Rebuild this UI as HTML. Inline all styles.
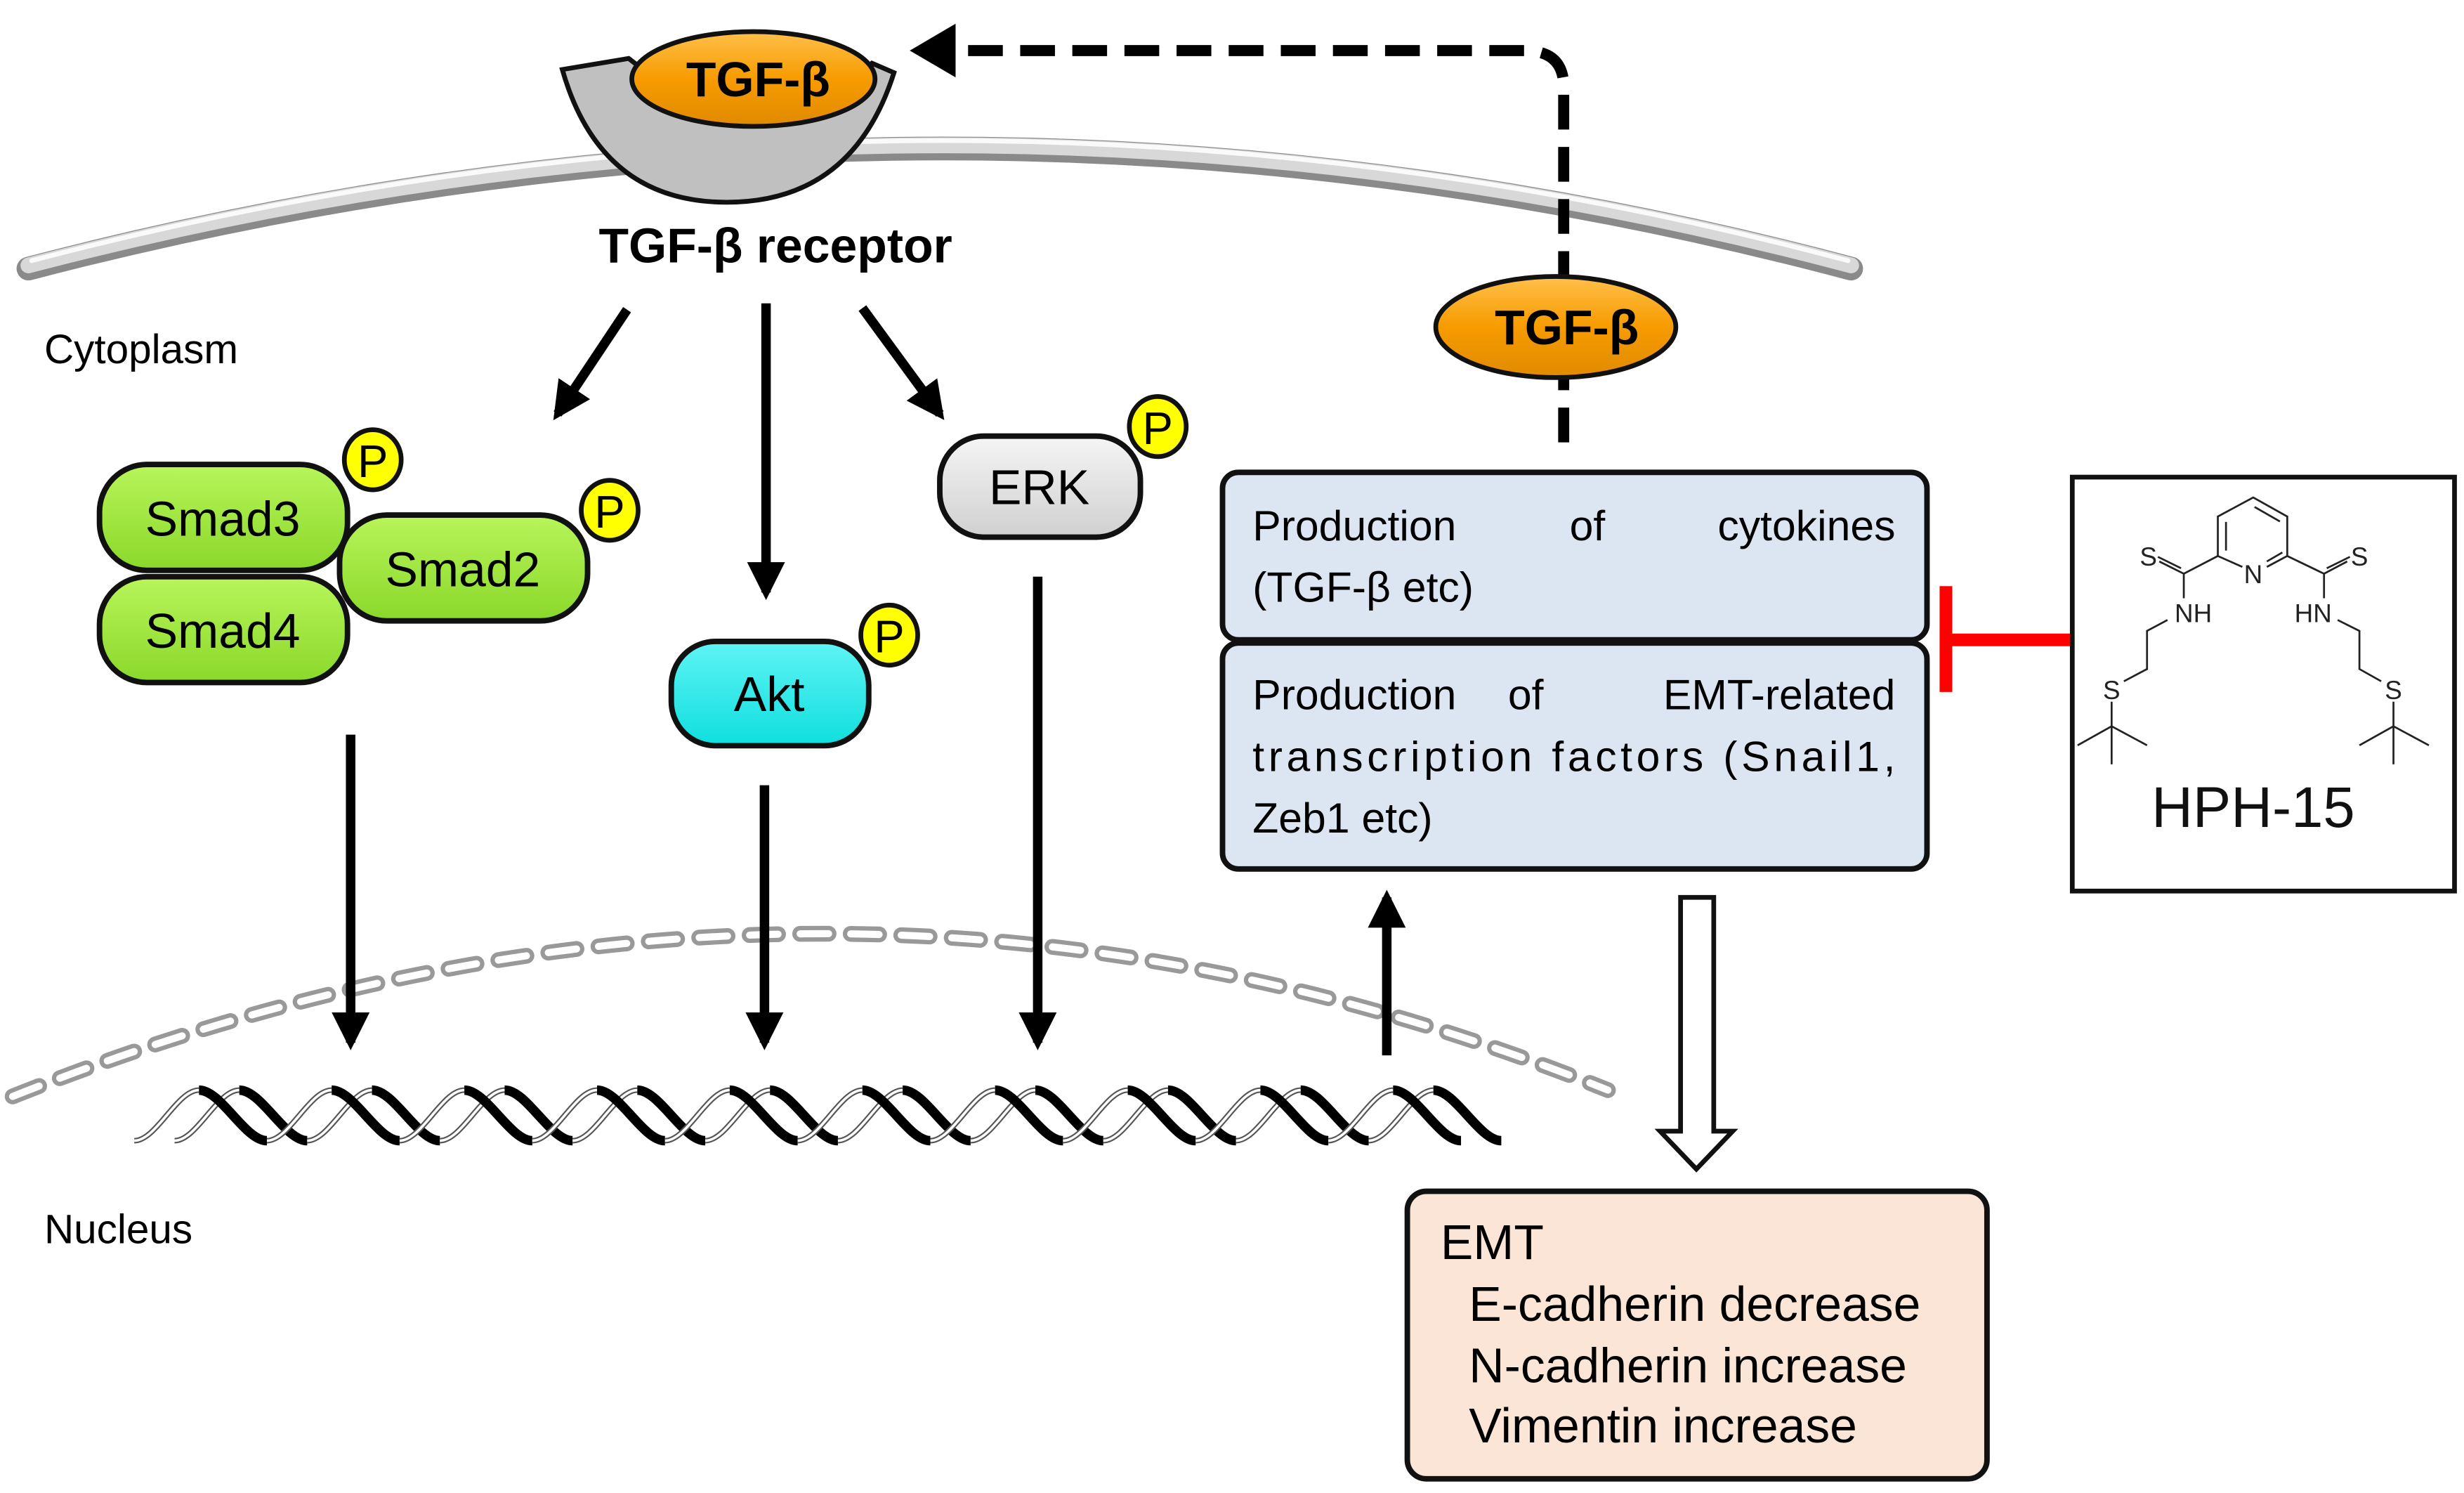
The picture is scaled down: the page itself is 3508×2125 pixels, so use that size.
<!DOCTYPE html>
<html><head><meta charset="utf-8"><style>html,body{margin:0;padding:0;background:#fff}svg{display:block}</style></head>
<body>
<svg width="3508" height="2125" viewBox="0 0 1560 945" preserveAspectRatio="none" xmlns="http://www.w3.org/2000/svg" font-family="Liberation Sans, Arial, sans-serif">
<defs>
<marker id="ah" viewBox="0 0 10 10" refX="8" refY="5" markerWidth="4" markerHeight="4" orient="auto"><path d="M0,0 L10,5 L0,10 Z" fill="#000"/></marker>
<linearGradient id="gOr" x1="0" y1="0" x2="0" y2="1"><stop offset="0" stop-color="#ffc04a"/><stop offset="0.5" stop-color="#f79b00"/><stop offset="1" stop-color="#e08a00"/></linearGradient>
<linearGradient id="gGr" x1="0" y1="0" x2="0" y2="1"><stop offset="0" stop-color="#b8f55a"/><stop offset="1" stop-color="#8ad82a"/></linearGradient>
<linearGradient id="gCy" x1="0" y1="0" x2="0" y2="1"><stop offset="0" stop-color="#5ff4f4"/><stop offset="1" stop-color="#10dede"/></linearGradient>
<linearGradient id="gGy" x1="0" y1="0" x2="0" y2="1"><stop offset="0" stop-color="#f5f5f5"/><stop offset="1" stop-color="#d0d0d0"/></linearGradient>
<g id="dna">
  <path d="M0,32 C14,32 27,0 41,0 M25.5,32 C39.5,32 52.5,0 66.5,0" fill="none" stroke="#555" stroke-width="3.5"/>
  <path d="M0,32 C14,32 27,0 41,0 M25.5,32 C39.5,32 52.5,0 66.5,0" fill="none" stroke="#fff" stroke-width="1.6"/>
  <path d="M41,0 C55,0 70,32 84,32 M66.5,0 C80.5,0 95.5,32 109.5,32" fill="none" stroke="#000" stroke-width="6"/>
</g>
</defs>

<!-- membrane -->
<path d="M18,170 Q600,18 1172,170" fill="none" stroke="#8a8a8a" stroke-width="15" stroke-linecap="round"/>
<path d="M18,168 Q600,16 1172,168" fill="none" stroke="#d8d8d8" stroke-width="10" stroke-linecap="round"/>
<path d="M20,165 Q600,13 1170,165" fill="none" stroke="#fafafa" stroke-width="3" stroke-linecap="round"/>

<!-- receptor -->
<path d="M356,44 L398,37 Q478,100 552,40 L566,46 Q540,128 460,128 Q380,128 356,44 Z" fill="#c0c0c0" stroke="#111" stroke-width="3"/>
<ellipse cx="477" cy="50" rx="77" ry="30" fill="url(#gOr)" stroke="#111" stroke-width="3"/>
<text x="480" y="61" font-size="31" font-weight="bold" text-anchor="middle">TGF-β</text>
<text x="491" y="166" font-size="31" font-weight="bold" text-anchor="middle">TGF-β receptor</text>

<text x="28" y="230" font-size="26">Cytoplasm</text>
<text x="28" y="787" font-size="26">Nucleus</text>

<!-- arrows from receptor -->
<line x1="397" y1="196" x2="353" y2="262" stroke="#000" stroke-width="6" marker-end="url(#ah)"/>
<line x1="485" y1="192" x2="485" y2="375" stroke="#000" stroke-width="6" marker-end="url(#ah)"/>
<line x1="546" y1="195" x2="595" y2="262" stroke="#000" stroke-width="6" marker-end="url(#ah)"/>

<!-- Smads -->
<rect x="63" y="294" width="157" height="67" rx="30" fill="url(#gGr)" stroke="#111" stroke-width="3.5"/>
<rect x="63" y="365" width="157" height="67" rx="30" fill="url(#gGr)" stroke="#111" stroke-width="3.5"/>
<rect x="215" y="326" width="157" height="67" rx="30" fill="url(#gGr)" stroke="#111" stroke-width="3.5"/>
<text x="141" y="339" font-size="31" text-anchor="middle">Smad3</text>
<text x="141" y="410" font-size="31" text-anchor="middle">Smad4</text>
<text x="293" y="371" font-size="31" text-anchor="middle">Smad2</text>

<!-- ERK, Akt -->
<rect x="595" y="276" width="127" height="64" rx="28" fill="url(#gGy)" stroke="#111" stroke-width="3.5"/>
<text x="658" y="319" font-size="31" text-anchor="middle">ERK</text>
<rect x="425" y="406" width="125" height="66" rx="28" fill="url(#gCy)" stroke="#111" stroke-width="3.5"/>
<text x="487" y="450" font-size="31" text-anchor="middle">Akt</text>

<!-- P circles -->
<g fill="#ffff00" stroke="#111" stroke-width="3">
<ellipse cx="236" cy="291" rx="18" ry="19"/><ellipse cx="386" cy="323" rx="18" ry="19"/>
<ellipse cx="563" cy="402" rx="18" ry="19"/><ellipse cx="733" cy="270" rx="18" ry="19"/>
</g>
<g font-size="29" text-anchor="middle">
<text x="236" y="302">P</text><text x="386" y="334">P</text><text x="563" y="413">P</text><text x="733" y="281">P</text>
</g>

<!-- nuclear envelope -->
<path d="M8,694 Q520,490 1018,690" fill="none" stroke="#999" stroke-width="10" stroke-dasharray="18,14" stroke-linecap="round"/>
<path d="M8,694 Q520,490 1018,690" fill="none" stroke="#fff" stroke-width="4.5" stroke-dasharray="18,14" stroke-linecap="round"/>

<!-- down arrows -->
<line x1="222" y1="465" x2="222" y2="660" stroke="#000" stroke-width="6" marker-end="url(#ah)"/>
<line x1="484" y1="497" x2="484" y2="660" stroke="#000" stroke-width="6" marker-end="url(#ah)"/>
<line x1="657" y1="365" x2="657" y2="660" stroke="#000" stroke-width="6" marker-end="url(#ah)"/>
<line x1="878" y1="668" x2="878" y2="568" stroke="#000" stroke-width="6" marker-end="url(#ah)"/>

<!-- DNA -->
<g transform="translate(85,690)">
<use href="#dna" x="0"/><use href="#dna" x="84"/><use href="#dna" x="168"/><use href="#dna" x="252"/><use href="#dna" x="336"/><use href="#dna" x="420"/><use href="#dna" x="504"/><use href="#dna" x="588"/><use href="#dna" x="672"/><use href="#dna" x="756"/>
</g>

<!-- dashed feedback -->
<path d="M990,280 L990,55 Q990,32 965,32 L598,32" fill="none" stroke="#000" stroke-width="7" stroke-dasharray="22,11"/>
<path d="M576,32 L605,15 L605,49 Z" fill="#000"/>
<ellipse cx="985" cy="207" rx="76" ry="32" fill="url(#gOr)" stroke="#111" stroke-width="3"/>
<text x="992" y="218" font-size="31" font-weight="bold" text-anchor="middle">TGF-β</text>

<!-- blue boxes -->
<rect x="774" y="299" width="446" height="106" rx="10" fill="#dce6f2" stroke="#111" stroke-width="3.5"/>
<rect x="774" y="407" width="446" height="143" rx="10" fill="#dce6f2" stroke="#111" stroke-width="3.5"/>
<g font-size="27">
<text x="793" y="342">Production</text><text x="1005" y="342" text-anchor="middle">of</text><text x="1200" y="342" text-anchor="end">cytokines</text>
<text x="793" y="381">(TGF-β etc)</text>
<text x="793" y="449">Production</text><text x="966" y="449" text-anchor="middle">of</text><text x="1200" y="449" text-anchor="end">EMT-related</text>
<text x="793" y="488" textLength="407" lengthAdjust="spacing">transcription factors (Snail1,</text>
<text x="793" y="527">Zeb1 etc)</text>
</g>

<!-- inhibition -->
<line x1="1232" y1="405" x2="1311" y2="405" stroke="#ff0000" stroke-width="8"/>
<line x1="1232" y1="371" x2="1232" y2="438" stroke="#ff0000" stroke-width="8"/>

<!-- HPH-15 box -->
<rect x="1312" y="302" width="242" height="262" fill="#fff" stroke="#111" stroke-width="3"/>
<g transform="translate(1289.5,289) scale(0.1724)" stroke="#222" stroke-width="7" fill="none">
<path d="M755,405 L665,365 L665,220 L795,150 L920,220 L920,365 L845,405"/>
<path d="M695,240 L695,345 M800,185 L893,238 M845,385 L902,352"/>
<path d="M665,365 L540,430 L540,520 M540,430 L450,385 M530,410 L445,368 M480,600 L405,640 L405,780 L320,825 M275,900 L275,990 L150,1060 M275,990 L405,1060 M275,990 L275,1130"/>
<path d="M920,365 L1055,430 L1055,520 M1055,430 L1140,385 M1065,410 L1150,368 M1105,600 L1185,640 L1185,780 L1265,825 M1310,900 L1310,990 L1185,1060 M1310,990 L1440,1060 M1310,990 L1310,1130"/>
</g>
<g transform="translate(1289.5,289) scale(0.1724)" font-size="95" fill="#222" text-anchor="middle">
<text x="410" y="400">S</text><text x="795" y="465">N</text><text x="1185" y="400">S</text>
<text x="575" y="608">NH</text><text x="1015" y="608">HN</text>
<text x="275" y="890">S</text><text x="1310" y="890">S</text>
<text x="795" y="1360" font-size="210" fill="#111">HPH-15</text>
</g>

<!-- hollow arrow -->
<path d="M1064,568 L1085,568 L1085,716 L1097,716 L1074,740 L1051,716 L1064,716 Z" fill="#fff" stroke="#111" stroke-width="3"/>

<!-- EMT box -->
<rect x="891" y="754" width="367" height="182" rx="12" fill="#fbe5d6" stroke="#111" stroke-width="3.5"/>
<g font-size="31">
<text x="912" y="797">EMT</text>
<text x="930" y="836">E-cadherin decrease</text>
<text x="930" y="875">N-cadherin increase</text>
<text x="930" y="913">Vimentin increase</text>
</g>
</svg>
</body></html>
